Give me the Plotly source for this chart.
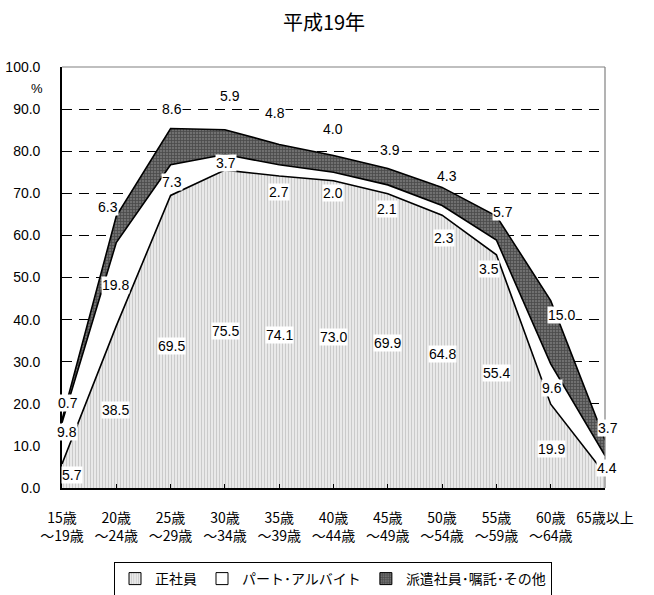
import plotly.graph_objects as go

categories = ["15歳<br>～19歳", "20歳<br>～24歳", "25歳<br>～29歳", "30歳<br>～34歳", "35歳<br>～39歳",
              "40歳<br>～44歳", "45歳<br>～49歳", "50歳<br>～54歳", "55歳<br>～59歳", "60歳<br>～64歳", "65歳以上"]
seishain = [5.7, 38.5, 69.5, 75.5, 74.1, 73.0, 69.9, 64.8, 55.4, 19.9, 3.3]
part = [9.8, 19.8, 7.3, 3.7, 2.7, 2.0, 2.1, 2.3, 3.5, 9.6, 4.4]
haken = [0.7, 6.3, 8.6, 5.9, 4.8, 4.0, 3.9, 4.3, 5.7, 15.0, 3.7]
names = ["正社員", "パート･アルバイト", "派遣社員･嘱託･その他"]
y_ticks = [0, 10, 20, 30, 40, 50, 60, 70, 80, 90, 100]

# label placement tweaks (data units / px)
s_dy = [0.3, -0.7, -1.0, -0.5, -0.7, -0.7, -0.6, -0.6, -0.4, -0.6, -2.3]
s_dx = [10, -1, 1, 1, 0, 0, 0, 0, 0, 1, 1]
p_dy = [2.7, -0.2, -0.45, -0.15, -5.15, -3.9, -4.65, -6.55, -5.15, -0.9, -0.7]
p_dx = [5, -1, 1, 1, 0, -1, -1, 2, -7, 1, 2]
h_dy = [4.0, 2.1, 4.6, 8.0, 7.5, 6.3, 4.4, 2.7, 1.0, -3.4, 2.9]
h_dx = [6, -8, 1, 5, -4, -1, 2, 5, 7, 11, 3]

JP = "Noto Sans CJK JP"
NUM = "Liberation Sans, Arial, sans-serif"

x = list(range(len(categories)))

pat_s = dict(shape="|", fgcolor="#a0a0a0", bgcolor="#f4f4f4", size=3, solidity=0.5)
pat_h = dict(shape="+", fgcolor="#222222", bgcolor="#707070", size=3, solidity=0.45)

fig = go.Figure()
fig.add_trace(go.Scatter(x=x, y=seishain, stackgroup="one", mode="lines",
                         line=dict(color="black", width=1.6), fillcolor="#e0e0e0",
                         fillpattern=pat_s, showlegend=False, name=names[0]))
fig.add_trace(go.Scatter(x=x, y=part, stackgroup="one", mode="lines",
                         line=dict(color="black", width=1.6), fillcolor="#ffffff",
                         showlegend=False, name=names[1]))
fig.add_trace(go.Scatter(x=x, y=haken, stackgroup="one", mode="lines",
                         line=dict(color="black", width=1.6), fillcolor="#555555",
                         fillpattern=pat_h, showlegend=False, name=names[2]))

# legend entries
fig.add_trace(go.Bar(x=[None], y=[None], name=names[0],
                     marker=dict(color="#e0e0e0", pattern=pat_s, line=dict(color="black", width=1))))
fig.add_trace(go.Bar(x=[None], y=[None], name=names[1],
                     marker=dict(color="#ffffff", line=dict(color="black", width=1))))
fig.add_trace(go.Bar(x=[None], y=[None], name=names[2],
                     marker=dict(color="#555555", pattern=pat_h, line=dict(color="black", width=1))))

annotations = []
def lab(xv, yv, v, dx):
    annotations.append(dict(x=xv, y=yv, xref="x", yref="y", text=f"{v:.1f}", showarrow=False,
                            xshift=dx, font=dict(family=NUM, size=14, color="black"),
                            bgcolor="white", borderpad=0))

for i in x:
    s, p, h = seishain[i], part[i], haken[i]
    lab(i, s / 2 + s_dy[i], s, s_dx[i])
    lab(i, s + p / 2 + p_dy[i], p, p_dx[i])
    lab(i, s + p + h + h_dy[i], h, h_dx[i])

annotations.append(dict(xref="x domain", yref="y domain", x=-0.031, y=0.948, xanchor="right",
                        yanchor="middle", text="%", showarrow=False,
                        font=dict(family=NUM, size=13, color="black")))

fig.update_layout(
    width=654, height=595,
    margin=dict(l=62, r=49, t=67, b=107, autoexpand=False),
    paper_bgcolor="white", plot_bgcolor="white",
    title=dict(text="平成19年", x=324 / 654, xanchor="center", xref="container",
               y=1 - 23 / 595, yanchor="middle", yref="container",
               font=dict(family=JP, size=20, color="black")),
    showlegend=True,
    legend=dict(orientation="h", x=(114 - 62) / 543, xanchor="left", y=(488 - 562) / 421, yanchor="top",
                bordercolor="black", borderwidth=1, bgcolor="white",
                font=dict(family=JP, size=14, color="black"), traceorder="normal"),
    annotations=annotations,
    shapes=[
        dict(type="line", xref="paper", yref="paper", x0=0, x1=1, y0=1, y1=1,
             line=dict(color="#808080", width=1.2)),
        dict(type="line", xref="paper", yref="paper", x0=1, x1=1, y0=0, y1=1,
             line=dict(color="#808080", width=1.2)),
    ],
)

fig.update_xaxes(range=[0, 10], tickmode="array", tickvals=x, ticktext=categories,
                 showgrid=False, zeroline=False, showline=True, linecolor="black", linewidth=1.6,
                 ticks="inside", ticklen=4, tickcolor="black", tickwidth=1, automargin=False,
                 tickfont=dict(family=JP, size=14, color="black"), ticklabelstandoff=16)
fig.update_yaxes(range=[0, 100], tickmode="array", tickvals=y_ticks,
                 ticktext=[f"{v:.1f}" for v in y_ticks], automargin=False,
                 showgrid=True, gridcolor="black", griddash="10px,7px", gridwidth=1,
                 zeroline=False, showline=True, linecolor="black", linewidth=1.6, ticks="",
                 tickfont=dict(family=NUM, size=14, color="black"), ticklabelstandoff=17)

fig.write_html("out.html", config={"displayModeBar": False},
               post_script="document.body.style.margin='0';")
